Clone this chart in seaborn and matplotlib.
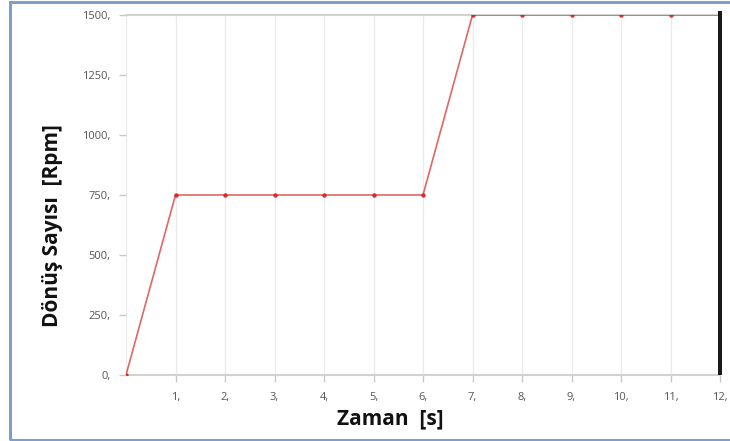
import matplotlib
matplotlib.use("Agg")
import matplotlib.pyplot as plt
import seaborn as sns
import pandas as pd
from matplotlib.patches import Rectangle

# Rotational speed profile over time
zaman = [0, 1, 2, 3, 4, 5, 6, 7, 8, 9, 10, 11, 12]
devir = [0, 750, 750, 750, 750, 750, 750, 1500, 1500, 1500, 1500, 1500, 1500]
x_ticks = [1, 2, 3, 4, 5, 6, 7, 8, 9, 10, 11, 12]
y_ticks = [0, 250, 500, 750, 1000, 1250, 1500]

df = pd.DataFrame({"Zaman": zaman, "Devir": devir})

sns.set_theme(style="white")
plt.rcParams["font.family"] = ["Open Sans", "DejaVu Sans"]

fig = plt.figure(figsize=(7.3, 4.41), dpi=100)
ax = fig.add_axes([126 / 730, 1 - 375 / 441, (720 - 126) / 730, (375 - 15) / 441])

# outer frame
fig.patches.append(Rectangle((10 / 730, 1 / 441), 1.0, 438 / 441, transform=fig.transFigure,
                             fill=False, edgecolor="#7f9fc8", linewidth=2.2, zorder=0))

# vertical grid lines
for xv in range(0, 12):
    ax.axvline(xv, color="#ebebeb", linewidth=1.0, zorder=0)

sns.lineplot(data=df, x="Zaman", y="Devir", ax=ax, color="#e05555", linewidth=1.2,
             marker="o", markersize=3.2, markeredgewidth=0, markerfacecolor="#d42020",
             alpha=0.9, zorder=3)

# cursor line at the end of the time range
ax.axvline(12, ymax=1.012, color="#1a1a1a", linewidth=2.9, zorder=4, clip_on=False,
           solid_capstyle="butt")

ax.set_xlim(0, 12)
ax.set_ylim(0, 1500)

for s in ["left", "right"]:
    ax.spines[s].set_visible(False)
ax.spines["top"].set_color("#d2d2d2")
ax.spines["top"].set_linewidth(1.5)
ax.spines["bottom"].set_color("#d2d2d2")
ax.spines["bottom"].set_linewidth(1.5)

ax.set_xticks(x_ticks)
ax.set_xticklabels([f"{v}," for v in x_ticks])
ax.set_yticks(y_ticks)
ax.set_yticklabels([f"{v}," for v in y_ticks])
ax.tick_params(axis="both", which="both", labelsize=8, labelcolor="#555555",
               color="#c8c8c8", length=5, width=1, bottom=True, left=True)
ax.tick_params(axis="x", pad=7)
ax.tick_params(axis="y", pad=6)

ax.set_xlabel("Zaman  [s]", fontsize=15, fontweight="bold", color="#111111", va="center")
ax.xaxis.set_label_coords((390 - 126) / 594, (375 - 419) / 360)
ax.set_ylabel("Dönüş Sayısı  [Rpm]", fontsize=15, fontweight="bold", color="#111111", va="center")
ax.yaxis.set_label_coords((52 - 126) / 594, (375 - 226) / 360)

fig.savefig("out.png", dpi=100)
